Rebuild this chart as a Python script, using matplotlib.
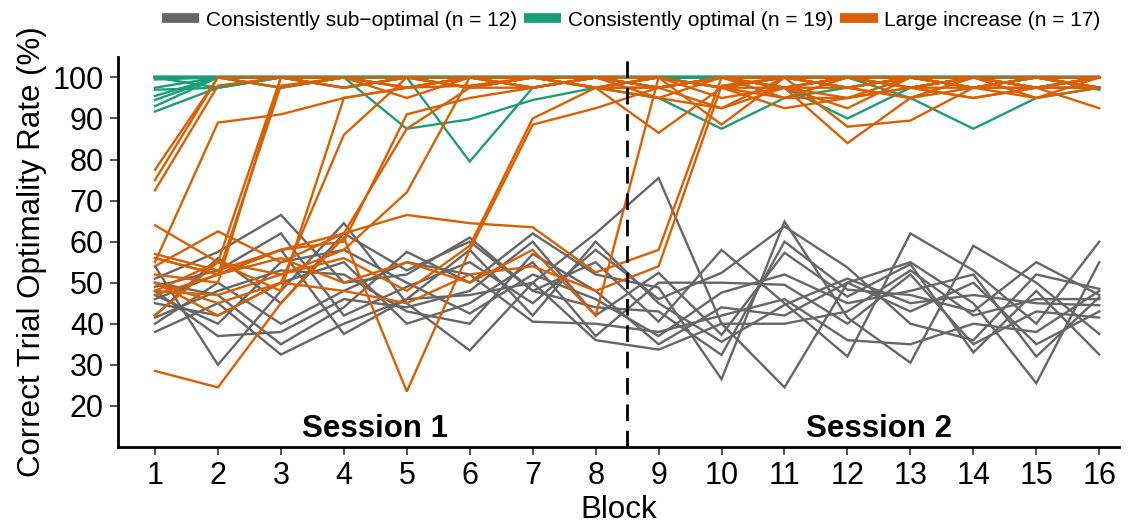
import numpy as np
import matplotlib.pyplot as plt
from matplotlib.lines import Line2D

plt.rcParams['font.family'] = ['Liberation Sans', 'DejaVu Sans']

blocks = np.arange(1, 17)

# optimality rate (%) per participant, blocks 1-16
sub_optimal = [
    [54, 30, 48, 64.5, 45, 33.5, 50, 62, 75.5, 40, 24.5, 50, 55, 45, 25.5, 55],
    [51, 57.5, 66.5, 50, 52, 61, 48, 55, 40.5, 58, 45, 32, 62, 53, 40, 60],
    [50, 47, 35, 44, 57.5, 50, 62, 52, 48.8, 26.5, 64.9, 41.5, 30.5, 59, 50, 37.5],
    [49, 53, 62, 42, 49, 55, 45, 58, 46, 52.4, 63.7, 53.7, 40, 36, 52, 48.5],
    [48, 37, 38, 46, 44, 48, 60, 42, 52.4, 37.3, 57.3, 46.6, 54.5, 33, 48, 32.5],
    [47, 40, 55, 58, 50, 42.5, 52, 46, 37, 47.6, 52, 45, 48, 52, 32, 46.5],
    [46, 52, 58, 37.5, 46, 58, 42, 60, 45, 35.6, 44.6, 51, 45, 47, 45, 44.5],
    [45, 42, 50, 55, 40, 45, 55, 37, 50, 50, 49.5, 40, 52, 35, 43, 41.5],
    [42, 56, 45, 62, 53, 60, 48, 44, 43, 32.4, 60, 48.3, 47, 43, 55, 47],
    [41.5, 48, 53, 52, 43, 40, 57, 48, 35, 44, 42, 50, 43, 50, 35, 43],
    [40, 50, 40, 48, 55, 52, 40.5, 40, 38, 42, 46, 36, 35, 40, 38, 48],
    [38, 45, 32.5, 40, 46, 47, 50, 36, 33.7, 40, 40, 43, 53, 42, 46, 46],
]

optimal = [
    [100] * 16,
    [100] * 15 + [97.5],
    [99.5] + [100] * 15,
    [97.5, 100, 100, 100, 87.5, 89.8, 94.5, 97.5, 100, 100, 100, 100, 100, 100, 100, 100],
    [97, 97.5, 100, 100, 100, 79.5, 97.5, 100, 100, 100, 97.5, 100, 100, 100, 97.5, 100],
    [95.5, 100, 97.5, 100, 100, 100, 100, 97.5, 95, 87.5, 95, 97.5, 100, 100, 100, 97.5],
    [94.5, 100, 100, 100, 97.5, 100, 100, 100, 100, 100, 97.5, 90, 97.5, 100, 100, 100],
    [93, 100, 100, 97.5, 100, 100, 97.5, 100, 97.5, 100, 100, 100, 95, 87.5, 95, 97.5],
    [91.7, 97.5, 100, 100, 100, 97.5, 100, 100, 100, 97.5, 100, 100, 100, 100, 100, 100],
    [100, 100, 97.5, 100, 100, 100, 100, 100, 100, 100, 100, 97.5, 100, 100, 100, 100],
    [100, 100, 100, 100, 97.5, 100, 100, 97.5, 100, 100, 100, 100, 100, 97.5, 100, 100],
    [100, 100, 100, 100, 100, 100, 100, 100, 97.5, 100, 100, 100, 100, 100, 100, 97],
    [100] * 16,
    [100, 100, 100, 97.5, 100, 100, 100, 100, 100, 100, 97.5, 100, 100, 100, 100, 100],
    [100] * 16,
    [100, 100, 100, 100, 100, 100, 97.5, 100, 100, 100, 100, 100, 97.5, 100, 100, 100],
    [100] * 16,
    [100, 97.5, 100, 100, 100, 100, 100, 100, 100, 97.5, 100, 100, 100, 100, 100, 100],
    [100] * 16,
]

large_increase = [
    [77.5, 100, 100, 100, 97.5, 100, 100, 100, 97.5, 100, 100, 97.5, 100, 100, 97.5, 100],
    [75, 100, 97.5, 100, 100, 97.5, 100, 97.5, 100, 88.5, 100, 100, 97.5, 100, 100, 97.5],
    [72.5, 98, 100, 97.5, 100, 100, 97.5, 100, 100, 97.5, 95, 100, 100, 97.5, 100, 100],
    [55, 89, 91, 95, 97.5, 98, 100, 97.5, 95, 100, 97.5, 95, 97.5, 100, 97.5, 92.5],
    [64, 55, 100, 100, 97.5, 100, 97.5, 100, 95, 92.5, 100, 88, 89.5, 97.5, 95, 100],
    [52, 50, 100, 97.5, 100, 97.5, 100, 97.5, 100, 97.5, 97.5, 92.5, 100, 100, 97.5, 97.5],
    [56, 52, 98, 100, 95, 100, 100, 97.5, 97.5, 100, 100, 97.5, 95, 97.5, 100, 97.5],
    [50, 42, 50, 86, 100, 97.5, 97.5, 100, 100, 97.5, 92.5, 95, 97.5, 100, 97.5, 100],
    [48, 55, 48, 95, 97.5, 100, 100, 97.5, 97.5, 100, 97.5, 100, 97.5, 95, 97.5, 100],
    [54, 62.5, 55, 62, 87.5, 97.5, 100, 100, 97.5, 100, 100, 97.5, 100, 97.5, 100, 100],
    [57, 53, 58, 60, 91, 95, 97.5, 100, 97.5, 92.5, 97.5, 84, 95, 100, 95, 97.5],
    [28.5, 24.5, 45, 61, 23.5, 58, 88.5, 92.5, 97.5, 100, 95, 95, 100, 97.5, 100, 97.5],
    [42, 55, 52, 56, 48, 59, 90, 97.5, 86.5, 97.5, 100, 100, 97.5, 95, 97.5, 100],
    [48, 47, 52, 58, 72, 100, 97.5, 100, 97.5, 100, 97.5, 97.5, 95, 100, 97.5, 100],
    [56, 52, 58, 62, 66.5, 64.5, 63.5, 52.5, 58, 100, 97.5, 100, 97.5, 97.5, 100, 97.5],
    [50, 45, 50, 48, 45, 52, 54, 48, 54, 98, 100, 97.5, 100, 97.5, 97.5, 97.5],
    [47, 52, 56, 50, 55, 50, 58, 42, 100, 95, 97.5, 100, 100, 97.5, 97.5, 97.5],
]

groups = [
    ("Consistently sub\u2212optimal (n = 12)", sub_optimal, "#666666"),
    ("Consistently optimal (n = 19)", optimal, "#1B9E77"),
    ("Large increase (n = 17)", large_increase, "#D95F02"),
]

fig = plt.figure(figsize=(11.33, 5.27), dpi=100)
ax = fig.add_axes([0.104, 0.152, 0.884, 0.740])

for label, rows, color in groups:
    for row in rows:
        ax.plot(blocks, row, color=color, lw=1.7, solid_joinstyle='miter')

ax.axvline(8.5, color='black', lw=2, ls=(0, (6, 3.5)))
ax.text(4.5, 14.3, "Session 1", ha='center', va='center', fontsize=22.5, fontweight='bold')
ax.text(12.5, 14.3, "Session 2", ha='center', va='center', fontsize=22.5, fontweight='bold')

ax.set_xlim(0.41, 16.32)
ax.set_ylim(10, 105)
ax.set_xticks(blocks)
ax.set_yticks(np.arange(20, 101, 10))
ax.tick_params(labelsize=22, width=1.2, length=6, color='#333333', pad=4)
ax.set_xlabel("Block", fontsize=22.5, labelpad=3)
ax.set_ylabel("Correct Trial Optimality Rate (%)", fontsize=22.5, labelpad=4)
for side in ['top', 'right']:
    ax.spines[side].set_visible(False)
for side in ['left', 'bottom']:
    ax.spines[side].set_linewidth(2)

handles = [Line2D([0], [0], color=c, lw=7, solid_capstyle='butt') for _, _, c in groups]
fig.legend(handles, [g[0] for g in groups], loc='center', bbox_to_anchor=(0.557, 0.962),
           ncol=3, frameon=False, fontsize=15, handlelength=1.8, handletextpad=0.3,
           columnspacing=0.35)

fig.savefig("out.png", dpi=100)
